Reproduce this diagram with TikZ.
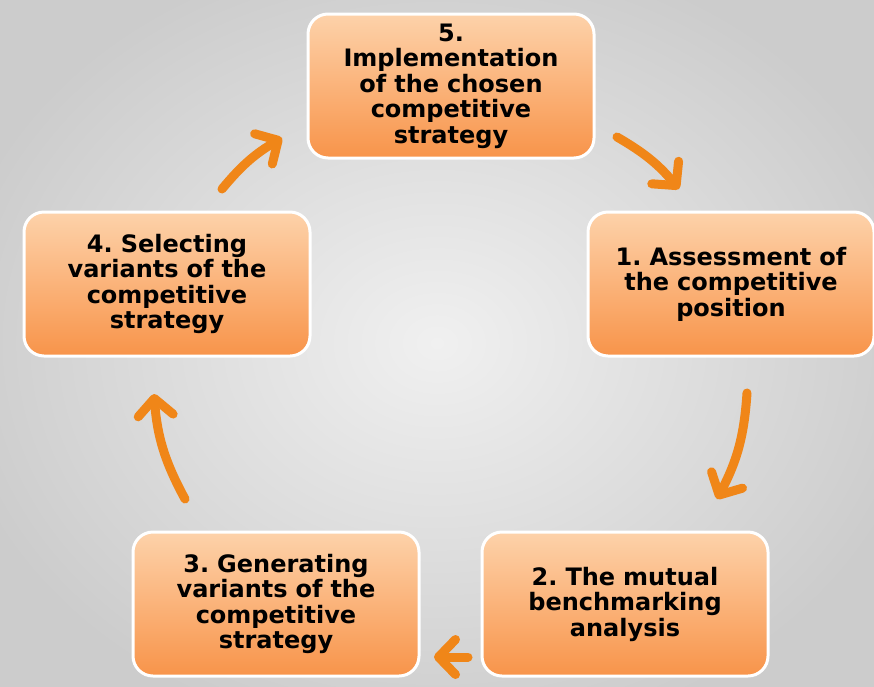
\documentclass[tikz,border=0pt]{standalone}
\usepackage{fontspec}
\setmainfont{DejaVu Sans}
\usetikzlibrary{arrows.meta}

\definecolor{boxTop}{RGB}{253,210,170}
\definecolor{boxBot}{RGB}{248,148,74}
\definecolor{arrowOrange}{RGB}{240,134,24}
\definecolor{bgInner}{RGB}{240,240,240}
\definecolor{bgOuter}{RGB}{204,204,204}

\begin{document}
\frenchspacing
\begin{tikzpicture}[x=1pt,y=-1pt,line join=round,
  stage/.style={rectangle,rounded corners=20pt,draw=white,line width=3pt,
    top color=boxTop,bottom color=boxBot,
    minimum width=286pt,minimum height=144pt,inner sep=0pt,
    text width=276pt,align=center,
    font=\bfseries\fontsize{24}{25.5}\selectfont},
  cycarrow/.style={draw=arrowOrange,line width=9pt,line cap=round,
    -{Straight Barb[length=17pt,width=35pt,round]}},
  ]
  % background
  \useasboundingbox (0,0) rectangle (874,686);
  \fill[inner color=bgInner,outer color=bgOuter] (-60,-60) rectangle (934,746);
  % stages of the cycle
  \node[stage] (s5) at (451,86)  {5.\\Implementation\\of the chosen\\competitive\\strategy};
  \node[stage] (s1) at (731,284) {1. Assessment of\\the competitive\\position};
  \node[stage] (s2) at (625,604) {2. The mutual\\benchmarking\\analysis};
  \node[stage] (s3) at (276,604) {3. Generating\\variants of the\\competitive\\strategy};
  \node[stage] (s4) at (167,284) {4. Selecting\\variants of the\\competitive\\strategy};
  % arrow ends
  \coordinate (a51) at (617,137); \coordinate (b51) at (679,189);
  \coordinate (a12) at (747,393); \coordinate (b12) at (717,499);
  \coordinate (a23) at (468,657); \coordinate (b23) at (434,657);
  \coordinate (a34) at (185,499); \coordinate (b34) at (154,394);
  \coordinate (a45) at (222,189); \coordinate (b45) at (282,138);
  % arrows
  \draw[cycarrow] (a51) to[bend left=10] (b51);
  \draw[cycarrow] (a12) to[bend left=12] (b12);
  \draw[cycarrow] (a23) -- (b23);
  \draw[cycarrow] (a34) to[bend left=12] (b34);
  \draw[cycarrow] (a45) to[bend left=10] (b45);
\end{tikzpicture}
\end{document}
